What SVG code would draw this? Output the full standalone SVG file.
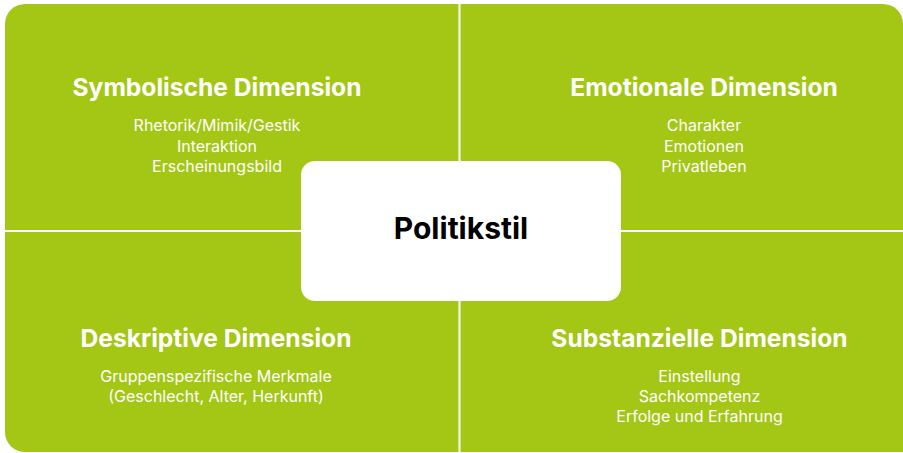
<svg xmlns="http://www.w3.org/2000/svg" width="903" height="453" viewBox="0 0 903 453">
<style>
.h{font-family:Inter,"Liberation Sans",sans-serif;font-weight:700;font-size:24.6px;fill:#fff;text-anchor:middle}
.b{font-family:Inter,"Liberation Sans",sans-serif;font-weight:400;font-size:16px;fill:#fff;text-anchor:middle}
.t{font-family:Inter,"Liberation Sans",sans-serif;font-weight:700;font-size:30px;fill:#000;text-anchor:middle}
.div{stroke:#fff;stroke-width:2;fill:none}
</style>
<rect width="903" height="453" fill="#fff"/>
<path id="bg" d="M5,24 A20,20 0 0 1 25,4 H883 A20,20 0 0 1 903,24 V452 H25 A20,20 0 0 1 5,432 Z" fill="#A4C615"/>
<g id="connectors">
<line class="div" x1="459.5" y1="4" x2="459.5" y2="452"/>
<line class="div" x1="5" y1="231" x2="903" y2="231"/>
</g>
<g id="symbolisch">
<text class="h" x="217" y="96">Symbolische Dimension</text>
<text class="b" x="217" y="131">Rhetorik/Mimik/Gestik</text>
<text class="b" x="217" y="151.5">Interaktion</text>
<text class="b" x="217" y="172">Erscheinungsbild</text>
</g>
<g id="emotional">
<text class="h" x="704" y="96">Emotionale Dimension</text>
<text class="b" x="704" y="131">Charakter</text>
<text class="b" x="704" y="151.5">Emotionen</text>
<text class="b" x="704" y="172">Privatleben</text>
</g>
<g id="deskriptiv">
<text class="h" x="216" y="347">Deskriptive Dimension</text>
<text class="b" x="216" y="382">Gruppenspezifische Merkmale</text>
<text class="b" x="216" y="402">(Geschlecht, Alter, Herkunft)</text>
</g>
<g id="substanziell">
<text class="h" x="699.5" y="347">Substanzielle Dimension</text>
<text class="b" x="699.5" y="382">Einstellung</text>
<text class="b" x="699.5" y="402">Sachkompetenz</text>
<text class="b" x="699.5" y="422">Erfolge und Erfahrung</text>
</g>
<g id="politikstil">
<rect x="301" y="161" width="320" height="140" rx="14" fill="#fff"/>
<text class="t" x="461" y="239">Politikstil</text>
</g>
</svg>
